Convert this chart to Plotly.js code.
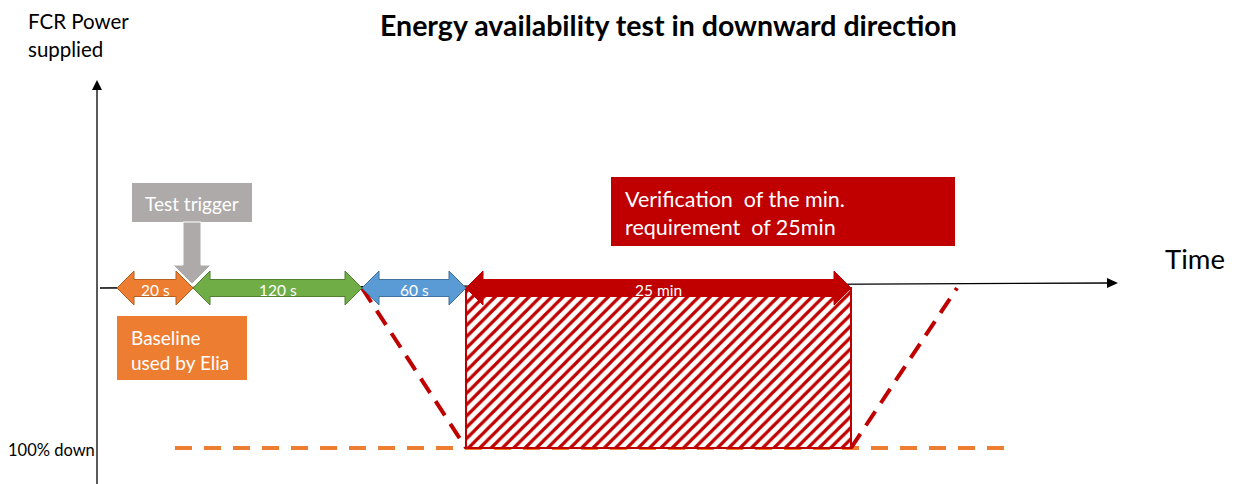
<!DOCTYPE html>
<html><head><meta charset="utf-8">
<script src="https://cdn.plot.ly/plotly-3.0.1.min.js"></script>
<style>html,body{margin:0;padding:0;background:#fff}#chart{width:1237px;height:484px}</style>
</head><body><div id="chart"></div>
<script>
// ---- schematic data (not to scale) ----
const phaseNames = ['20 s', '120 s', '60 s', '25 min'];
const phaseBounds = [20, 96, 265, 369, 754];      // schematic time positions
const baselinePower = 0;                            // % of FCR power
const fullDownPower = -100;                         // 100% down
const rampDownX = [265, 369];
const rampDownY = [0, -100];
const rampUpX = [754, 860];
const rampUpY = [-100, 0];
const referenceX = [78, 916];
const referenceY = [-100, -100];
const verifyX = [369, 754];

// ---- layout helpers (pixel layout -> axis units) ----
const FONT = 'Lato, "Open Sans", sans-serif';
const X = px => px - 97;
const Y = py => (288 - py) / 1.6;
const dY = p => p / 1.6;

const phaseFill = ['#ED7D31', '#70AD47', '#5B9BD5', '#C00000'];
const phaseLine = ['#B6601F', '#507E32', '#41719C', '#C00000'];
const phaseFont = [15.5, 15.5, 15.5, 15.5];

const traces = [];
const annotations = [];

function poly(xs, ys, fill, line, lw) {
  traces.push({x: xs, y: ys, mode: 'lines', fill: 'toself', fillcolor: fill,
    line: {color: line || fill, width: lw || 0}, hoverinfo: 'skip'});
}
function text(x, y, t, size, color, anchor, bold) {
  annotations.push({x: x, y: y, xref: 'x', yref: 'y', text: bold ? '<b>' + t + '</b>' : t,
    showarrow: false, xanchor: anchor || 'center', yanchor: 'middle',
    font: {family: FONT, size: size, color: color || '#000'}});
}

// axes
traces.push({x: [X(100), X(1110)], y: [Y(288), Y(283)], mode: 'lines', line: {color: '#000', width: 1.3}, hoverinfo: 'skip'});
poly([X(1107), X(1118), X(1107)], [Y(278), Y(283), Y(288)], '#000');
traces.push({x: [0, 0], y: [Y(484), Y(88)], mode: 'lines', line: {color: '#000', width: 1.3}, hoverinfo: 'skip'});
poly([-5, 0, 5], [Y(90), Y(80), Y(90)], '#000');

// orange reference line at 100% down
traces.push({x: referenceX, y: referenceY, mode: 'lines', line: {color: '#ED7D31', width: 4, dash: '17px,12px'}, hoverinfo: 'skip'});

// hatched verification area
traces.push({x: [verifyX[0], verifyX[1], verifyX[1], verifyX[0], verifyX[0]],
  y: [baselinePower, baselinePower, fullDownPower, fullDownPower, baselinePower],
  mode: 'lines', fill: 'toself', fillcolor: '#fff',
  fillpattern: {shape: '/', fgcolor: '#C00000', bgcolor: '#fff', size: 8, solidity: 0.4},
  line: {color: '#C00000', width: 2}, hoverinfo: 'skip'});

// ramps
traces.push({x: rampDownX, y: rampDownY, mode: 'lines', line: {color: '#C00000', width: 4, dash: '17px,10px'}, hoverinfo: 'skip'});
traces.push({x: rampUpX, y: rampUpY, mode: 'lines', line: {color: '#C00000', width: 4, dash: '17px,10px'}, hoverinfo: 'skip'});

// double block arrows per phase
const h = 17, H = dY(17), b = dY(8.5);
for (let i = 0; i < phaseNames.length; i++) {
  const x0 = phaseBounds[i], x1 = phaseBounds[i + 1], y = baselinePower;
  poly([x0, x0 + h, x0 + h, x1 - h, x1 - h, x1, x1 - h, x1 - h, x0 + h, x0 + h, x0],
       [y, y + H, y + b, y + b, y + H, y, y - H, y - b, y - b, y - H, y],
       phaseFill[i], phaseLine[i], 1);
  text((x0 + x1) / 2, y - dY(2), phaseNames[i], phaseFont[i], '#fff');
}

// test trigger
poly([X(132), X(252), X(252), X(132), X(132)], [Y(183), Y(183), Y(222), Y(222), Y(183)], '#AEAAAA');
poly([X(183), X(201), X(201), X(211), X(192), X(173), X(183), X(183)],
     [Y(222), Y(222), Y(265), Y(265), Y(284), Y(265), Y(265), Y(222)], '#AEAAAA', '#fff', 1);
text(X(192), Y(203), 'Test trigger', 19, '#fff');

// baseline box
poly([X(117), X(247), X(247), X(117), X(117)], [Y(316), Y(316), Y(380), Y(380), Y(316)], '#ED7D31');
text(X(129), Y(337), 'Baseline', 19, '#fff', 'left');
text(X(129), Y(362), 'used by Elia', 19, '#fff', 'left');

// verification box
poly([X(611), X(955), X(955), X(611), X(611)], [Y(177), Y(177), Y(246), Y(246), Y(177)], '#C00000');
text(X(623), Y(199), 'Verification&nbsp; of the min.', 21.5, '#fff', 'left');
text(X(623), Y(227), 'requirement&nbsp; of 25min', 21.5, '#fff', 'left');

// labels
text(X(26), Y(21), 'FCR Power', 20.5, '#000', 'left');
text(X(26), Y(49), 'supplied', 20.5, '#000', 'left');
text(X(1163), Y(258), 'Time', 27.5, '#000', 'left');
text(X(97), Y(450), '100% down', 16.5, '#000', 'right');
text(X(668), Y(25), 'Energy availability test in downward direction', 28.5, '#000', 'center', true);

Plotly.newPlot('chart', traces, {
  width: 1237, height: 484, margin: {l: 0, r: 0, t: 0, b: 0},
  paper_bgcolor: '#fff', plot_bgcolor: '#fff', showlegend: false,
  xaxis: {range: [X(0), X(1237)], visible: false, fixedrange: true},
  yaxis: {range: [Y(484), Y(0)], visible: false, fixedrange: true},
  annotations: annotations
}, {staticPlot: true});
</script></body></html>
